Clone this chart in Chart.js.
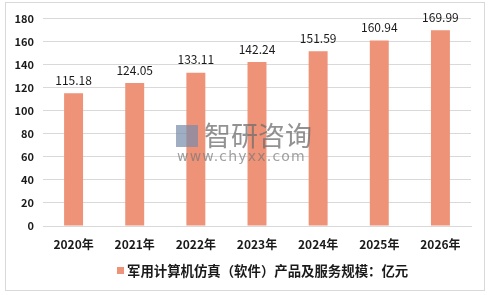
<!DOCTYPE html>
<html>
<head>
<meta charset="utf-8">
<script src="https://cdn.jsdelivr.net/npm/chart.js@4"></script>
<style>
  body { margin: 0; background: #fff; }
  #box { position: absolute; left: 5px; top: 2px; width: 478px; height: 287px; border: 1px solid #d9d9d9; }
</style>
</head>
<body>
<div id="box"><canvas id="myChart1" width="478" height="287"></canvas></div>
<script>
const years = ['2020年', '2021年', '2022年', '2023年', '2024年', '2025年', '2026年'];
const marketSize = [115.18, 124.05, 133.11, 142.24, 151.59, 160.94, 169.99];
const seriesName = '军用计算机仿真（软件）产品及服务规模：亿元';
const yTicks = [0, 20, 40, 60, 80, 100, 120, 140, 160, 180];

const fontFamily = '"Noto Sans CJK SC", "Noto Sans", sans-serif';
const barColor = '#EE9278';

// value labels above each bar
const valueLabels = {
    id: 'valueLabels',
    afterDatasetsDraw(chart) {
        const ctx = chart.ctx;
        const meta = chart.getDatasetMeta(0);
        ctx.save();
        ctx.font = '12px ' + fontFamily;
        ctx.fillStyle = '#1a1a1a';
        ctx.textAlign = 'center';
        ctx.textBaseline = 'middle';
        meta.data.forEach(function(bar, i) {
            ctx.fillText(marketSize[i].toFixed(2), bar.x, bar.y - 13);
        });
        ctx.restore();
    }
};

// legend sits a bit right of centre, like the excel original
const bottomLegend = {
    id: 'bottomLegend',
    afterDraw(chart) {
        const ctx = chart.ctx;
        ctx.save();
        ctx.fillStyle = barColor;
        ctx.fillRect(111, 264, 7, 7);
        ctx.fillStyle = '#1a1a1a';
        ctx.font = 'bold 13.4px ' + fontFamily;
        ctx.textBaseline = 'middle';
        ctx.fillText(chart.data.datasets[0].label, 121, 267.5);
        ctx.restore();
    }
};

// faint site watermark in the middle
const watermark = {
    id: 'watermark',
    afterDatasetsDraw(chart) {
        const ctx = chart.ctx;
        ctx.save();
        ctx.fillStyle = 'rgba(110, 110, 110, 0.75)';
        ctx.textBaseline = 'middle';
        ctx.textAlign = 'left';
        ctx.font = '27px ' + fontFamily;
        ctx.fillText('智研咨询', 198, 133);
        ctx.fillStyle = 'rgba(120, 140, 170, 0.7)';
        ctx.fillRect(170, 122, 22, 22);
        ctx.fillStyle = 'rgba(120, 120, 120, 0.7)';
        ctx.font = '14px "DejaVu Sans", sans-serif';
        if ('letterSpacing' in ctx) ctx.letterSpacing = '1.2px';
        ctx.fillText('www.chyxx.com', 171, 154);
        ctx.restore();
    }
};

const ctx = document.getElementById('myChart1').getContext('2d');

const myChart1 = new Chart(ctx, {
    type: 'bar',
    data: {
        labels: years,
        datasets: [{
            label: seriesName,
            data: marketSize,
            backgroundColor: barColor,
            barPercentage: 0.31,
            categoryPercentage: 1.0
        }]
    },
    options: {
        responsive: false,
        animation: false,
        layout: { padding: { top: 9, right: 13, left: 0, bottom: 31 } },
        plugins: {
            tooltip: { enabled: false },
            legend: { display: false }
        },
        scales: {
            x: {
                grid: { display: false },
                border: { color: '#d9d9d9' },
                ticks: {
                    color: '#1a1a1a',
                    padding: 3,
                    font: { family: fontFamily, size: 12, weight: 'bold' }
                },
                afterFit(scale) { scale.height = 33; }
            },
            y: {
                min: 0,
                max: 180,
                afterBuildTicks(scale) { scale.ticks = yTicks.map(v => ({ value: v })); },
                grid: { color: '#d9d9d9', drawTicks: false },
                border: { display: false },
                ticks: {
                    color: '#1a1a1a',
                    padding: 9,
                    font: { family: fontFamily, size: 11, weight: 'bold' }
                },
                afterFit(scale) { scale.width = 37; }
            }
        }
    },
    plugins: [valueLabels, watermark, bottomLegend]
});
</script>
</body>
</html>
